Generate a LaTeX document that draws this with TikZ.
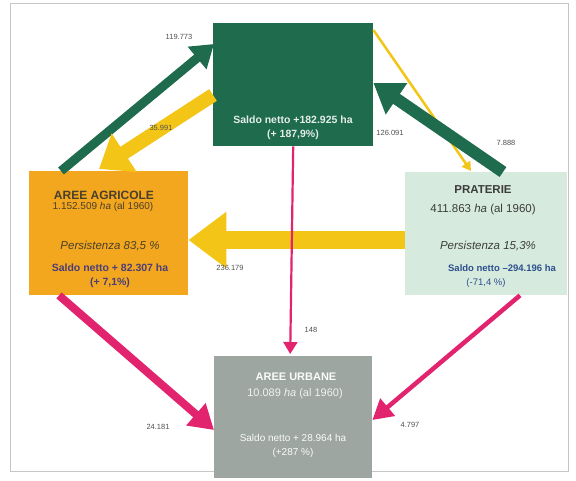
\documentclass[tikz,border=0pt]{standalone}
\usepackage{fontspec}
\setmainfont{Liberation Sans}
\usetikzlibrary{arrows.meta,calc}
\definecolor{dkgreen}{HTML}{1E6B4E}
\definecolor{agrorange}{HTML}{F2A71E}
\definecolor{mint}{HTML}{D6EBDD}
\definecolor{urbgray}{HTML}{9DA6A1}
\definecolor{ylw}{HTML}{F3C516}
\definecolor{mag}{HTML}{E2236E}
\definecolor{agrtxt}{HTML}{4A3F2C}
\definecolor{pratxt}{HTML}{3C3C3C}
\definecolor{bluetxt}{HTML}{2E4F8F}
\definecolor{purptxt}{HTML}{4B3D7A}
\definecolor{lbl}{HTML}{505050}
\tikzset{
  box/.style={rectangle, inner sep=0pt, anchor=north west},
  txt/.style={inner sep=0pt, align=center},
  flowlbl/.style={inner sep=0pt, text=lbl, font=\fontsize{7.5}{8}\selectfont},
}
\begin{document}
\begin{tikzpicture}[x=1pt,y=-1pt]
\useasboundingbox (0,0) rectangle (576,480);
\fill[white] (0,0) rectangle (576,480);
\draw[gray!45, line width=0.6pt] (10,3) rectangle (568,471);

% boxes
\node[box, fill=dkgreen, minimum width=160pt, minimum height=123pt] (T) at (213,23) {};
\node[box, fill=agrorange, minimum width=159pt, minimum height=124pt] (A) at (29,171) {};
\node[box, fill=mint, minimum width=162pt, minimum height=123pt] (P) at (405,172) {};
\node[box, fill=urbgray, minimum width=158pt, minimum height=122pt] (U) at (214,356) {};

% texts top
\node[txt, text=white!88!dkgreen, font=\bfseries\fontsize{10.5}{14}\selectfont] (Ts) at (293,128) {Saldo netto +182.925 ha\\(+ 187,9\%)};

% texts agricole
\node[txt, text=agrtxt, font=\bfseries\fontsize{12}{12}\selectfont] (At) at (104,195) {AREE AGRICOLE};
\node[txt, text=agrtxt, font=\fontsize{10}{10}\selectfont] (Ah) at (103,207) {1.152.509 \emph{ha} (al 1960)};
\node[txt, text=agrtxt, font=\itshape\fontsize{11.5}{11.5}\selectfont] (Ap) at (110,246) {Persistenza 83,5 \%};
\node[txt, text=purptxt, font=\bfseries\fontsize{10.5}{14}\selectfont] (As) at (110,276) {Saldo netto + 82.307 ha\\(+ 7,1\%)};

% texts praterie
\node[txt, text=pratxt, font=\bfseries\fontsize{11.5}{11.5}\selectfont] (Pt) at (483,190) {PRATERIE};
\node[txt, text=pratxt, font=\fontsize{11.5}{11.5}\selectfont] (Ph) at (483,210) {411.863 \emph{ha} (al 1960)};
\node[txt, text=pratxt, font=\itshape\fontsize{11.5}{11.5}\selectfont] (Pp) at (488,246) {Persistenza 15,3\%};
\node[txt, text=bluetxt, font=\bfseries\fontsize{9.5}{9.5}\selectfont] (Ps) at (502,268) {Saldo netto \textendash294.196 ha};
\node[txt, text=bluetxt, font=\fontsize{9.5}{9.5}\selectfont] (Ps2) at (486,283) {(-71,4 \%)};

% texts urbane
\node[txt, text=white!95!urbgray, font=\bfseries\fontsize{11}{11}\selectfont] (Ut) at (296,377) {AREE URBANE};
\node[txt, text=white!85!urbgray, font=\fontsize{11}{11}\selectfont] (Uh) at (295,394) {10.089 \emph{ha} (al 1960)};
\node[txt, text=white!95!urbgray, font=\fontsize{10}{14}\selectfont] (Us) at (293,446) {Saldo netto + 28.964 ha\\(+287 \%)};

% connectors
\draw[dkgreen, line width=9pt, -{Triangle[length=22pt,width=28pt]}]
  ($(A.north west)+(32,0)$) -- ($(T.north west)+(1,21)$);
\draw[ylw, line width=14pt, -{Triangle[length=30pt,width=44pt]}]
  ($(T.north west)+(0,72)$) -- ($(A.north west)+(70,-2)$);
\draw[ylw, line width=2.5pt, -{Triangle[length=9pt,width=10pt]}]
  ($(T.north east)+(0,7)$) -- ($(P.north west)+(66,-1)$);
\draw[dkgreen, line width=12pt, -{Triangle[length=28pt,width=36pt]}]
  ($(P.north west)+(98,0)$) -- ($(T.north east)+(0,60)$);
\draw[ylw, line width=18pt, -{Triangle[length=38pt,width=54pt]}]
  ($(P.north west)+(0,68)$) -- ($(A.north east)+(0,69)$);
\draw[mag, line width=2.2pt, -{Triangle[length=12pt,width=14pt]}]
  (T.south) -- ($(U.north)+(-3,-2)$);
\draw[mag, line width=8pt, -{Triangle[length=24pt,width=28pt]}]
  ($(A.south west)+(30,0)$) -- ($(U.north west)+(0,74)$);
\draw[mag, line width=4.5pt, -{Triangle[length=20pt,width=22pt]}]
  ($(P.south west)+(115,0)$) -- ($(U.north east)+(0,64)$);

% connector labels
\node[flowlbl] (l1) at (179,37) {119.773};
\node[flowlbl] (l2) at (161,128) {35.991};
\node[flowlbl] (l3) at (506,143) {7.888};
\node[flowlbl] (l4) at (390,133) {126.091};
\node[flowlbl] (l5) at (230,268) {236.179};
\node[flowlbl] (l6) at (311,330) {148};
\node[flowlbl] (l7) at (158,427) {24.181};
\node[flowlbl] (l8) at (410,425) {4.797};
\end{tikzpicture}
\end{document}
